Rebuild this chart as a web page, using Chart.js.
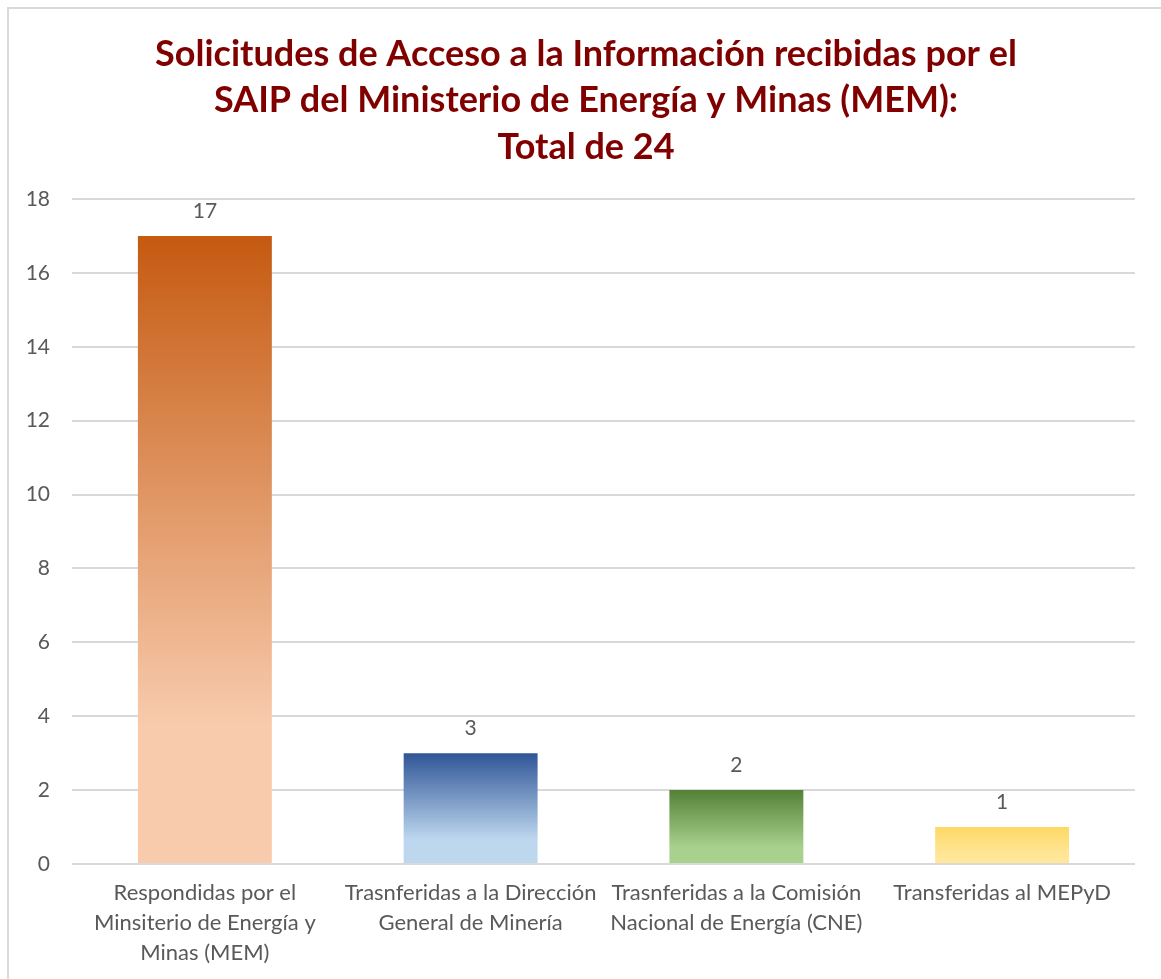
<!DOCTYPE html>
<html>
<head>
<meta charset="utf-8">
<script src="https://cdn.jsdelivr.net/npm/chart.js@4"></script>
<style>
  html, body { margin: 0; padding: 0; background: #fff; overflow: hidden; }
  #wrap { position: relative; width: 1161px; height: 979px; }
  #frame { position: absolute; left: 7px; top: 7px; width: 1200px; height: 1000px;
           border-left: 2px solid #d9d9d9; border-top: 2px solid #d9d9d9; box-sizing: border-box; }
  canvas { position: absolute; left: 0; top: 0; }
</style>
</head>
<body>
<div id="wrap">
  <div id="frame"></div>
  <canvas id="c" width="1161" height="979"></canvas>
</div>
<script>
const titleLines = [
  "Solicitudes de Acceso a la Información recibidas por el",
  "SAIP del Ministerio de Energía y Minas (MEM):",
  "Total de 24"
];
const categories = [
  ["Respondidas por el", "Minsiterio de Energía y", "Minas (MEM)"],
  ["Trasnferidas a la Dirección", "General de Minería"],
  ["Trasnferidas a la Comisión", "Nacional de Energía (CNE)"],
  ["Transferidas al MEPyD"]
];
const values = [17, 3, 2, 1];
const yTicks = [0, 2, 4, 6, 8, 10, 12, 14, 16, 18];
const gradTop = ["#C55A11", "#2F5597", "#538135", "#FFD966"];
const gradBottom = ["#F8CBAD", "#BDD7EE", "#A9D18E", "#FFE699"];

const FONT = "Lato, 'Open Sans', sans-serif";

function barGradient(ctx) {
  const chart = ctx.chart;
  const area = chart.chartArea;
  if (!area || ctx.type !== 'data') return gradTop[ctx.dataIndex % gradTop.length];
  const i = ctx.dataIndex;
  const yScale = chart.scales.y;
  const top = yScale.getPixelForValue(values[i]);
  const bottom = yScale.getPixelForValue(0);
  const g = chart.ctx.createLinearGradient(0, top, 0, bottom);
  g.addColorStop(0, gradTop[i]);
  g.addColorStop(0.78, gradBottom[i]);
  g.addColorStop(1, gradBottom[i]);
  return g;
}

const valueLabels = {
  id: 'valueLabels',
  afterDatasetsDraw(chart) {
    const c = chart.ctx;
    const meta = chart.getDatasetMeta(0);
    c.save();
    c.font = "21px " + FONT;
    c.fillStyle = "#595959";
    c.textAlign = "center";
    c.textBaseline = "middle";
    meta.data.forEach((bar, i) => {
      c.fillText(String(values[i]), bar.x, bar.y - 25);
    });
    c.restore();
  }
};

const titleDraw = {
  id: 'titleDraw',
  afterDraw(chart) {
    const c = chart.ctx;
    c.save();
    c.font = "bold 36px " + FONT;
    c.fillStyle = "#800000";
    c.textAlign = "center";
    c.textBaseline = "middle";
    titleLines.forEach((t, i) => c.fillText(t, 586, 54 + i * 46.5));
    c.restore();
  }
};

new Chart(document.getElementById('c'), {
  type: 'bar',
  data: {
    labels: categories,
    datasets: [{
      data: values,
      backgroundColor: barGradient,
      borderWidth: 0,
      barPercentage: 0.504,
      categoryPercentage: 1.0
    }]
  },
  options: {
    responsive: false,
    animation: false,
    events: [],
    layout: { padding: { left: 0, right: 26, top: 199, bottom: 0 } },
    plugins: {
      legend: { display: false },
      tooltip: { enabled: false },
      title: { display: false }
    },
    scales: {
      x: {
        grid: { display: false, drawTicks: false },
        border: { display: false },
        ticks: {
          color: "#595959",
          font: { family: FONT, size: 22, lineHeight: 1.36 },
          padding: 14,
          maxRotation: 0,
          autoSkip: false
        },
        afterFit(scale) { scale.height = 979 - 864; }
      },
      y: {
        min: 0,
        max: 18,
        afterBuildTicks(scale) { scale.ticks = yTicks.map(v => ({ value: v })); },
        grid: { color: "#d9d9d9", lineWidth: 2, drawTicks: false },
        border: { display: false },
        ticks: {
          color: "#595959",
          font: { family: FONT, size: 21 },
          padding: 22
        },
        afterFit(scale) { scale.width = 72; }
      }
    }
  },
  plugins: [valueLabels, titleDraw]
});
</script>
</body>
</html>
